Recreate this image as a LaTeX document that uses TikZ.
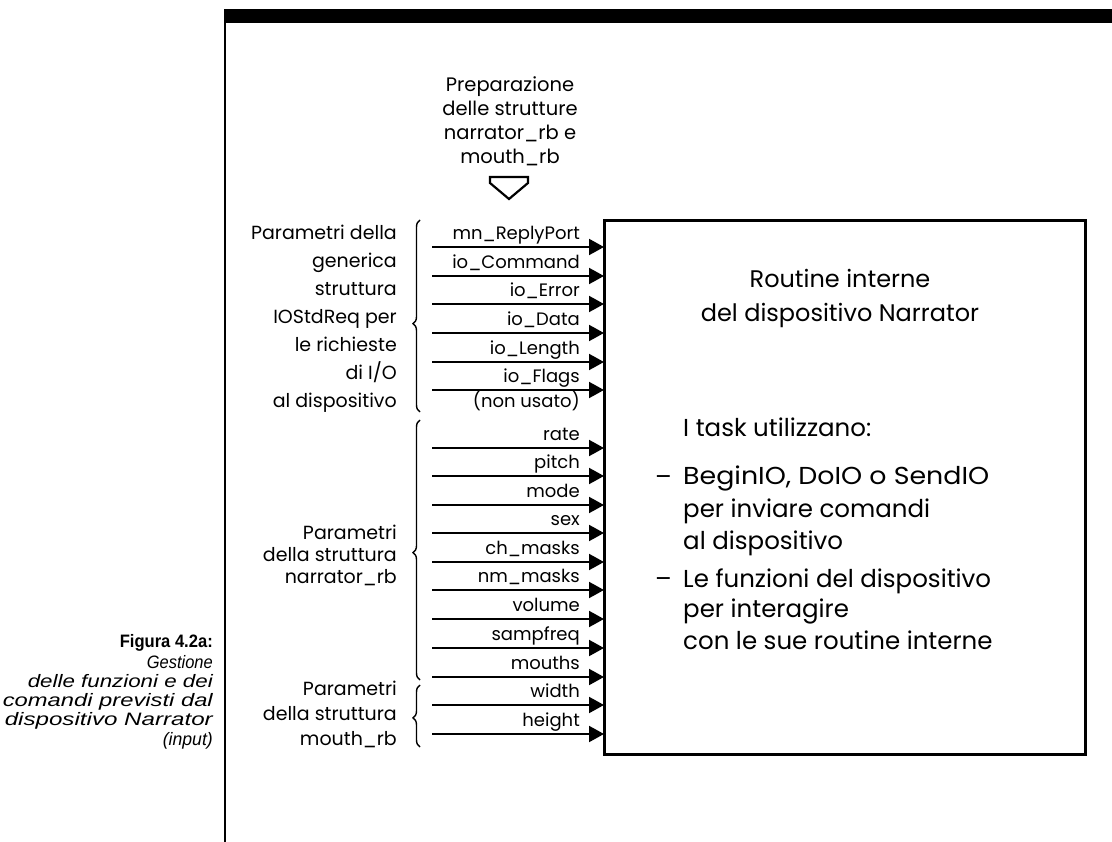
\documentclass[tikz,border=0pt]{standalone}
\usepackage{fontspec}
\usepackage{graphicx}
\setmainfont{Poppins}
\newfontfamily\capfont{Liberation Sans}
\usetikzlibrary{arrows.meta,decorations.pathreplacing}
\begin{document}
\begin{tikzpicture}[x=1pt,y=-1pt,
  lbl/.style={anchor=base east, inner sep=0pt, font=\fontsize{18}{21}\selectfont},
  side/.style={anchor=base east, inner sep=0pt, font=\fontsize{19}{22}\selectfont},
  toptxt/.style={anchor=base, inner sep=0pt, font=\fontsize{19.5}{22}\selectfont},
  boxtxt/.style={anchor=base, inner sep=0pt, font=\fontsize{24}{28}\selectfont},
  tasktxt/.style={anchor=base west, inner sep=0pt, font=\fontsize{24.5}{28}\selectfont},
  arr/.style={line width=2pt, -{Triangle[length=15pt,width=16pt]}},
  brc/.style={decorate, decoration={brace, amplitude=7pt, aspect=#1}, line width=1.4pt},
  capb/.style={anchor=base east, inner sep=0pt, font=\capfont\bfseries\fontsize{18}{19}\selectfont},
  capi/.style={anchor=base east, inner sep=0pt, font=\capfont\itshape\fontsize{18}{19}\selectfont},
]
\useasboundingbox (0,0) rectangle (1112,842);
% frame
\fill (224,9) rectangle (1112,23);
\draw[line width=2.2pt] (225,22) -- (225,842);

% main box
\node[draw, line width=3pt, minimum width=481pt, minimum height=533pt,
      anchor=north west, inner sep=0pt, outer sep=0pt] (box) at (604,221) {};

% arrows and labels
\foreach \i/\y/\t in {1/247/{mn\_ReplyPort}, 2/276/{io\_Command}, 3/304/{io\_Error},
    4/333/{io\_Data}, 5/362/{io\_Length}, 6/390/{io\_Flags},
    7/448/{rate}, 8/476/{pitch}, 9/505/{mode}, 10/533/{sex}, 11/562/{ch\_masks},
    12/590/{nm\_masks}, 13/619/{volume}, 14/648/{sampfreq}, 15/677/{mouths},
    16/705/{width}, 17/734/{height}} {
  \coordinate (a\i) at (432,\y);
  \draw[arr] (a\i) -- (a\i -| box.west);
  \node[lbl] (l\i) at (580,\y-7.5) {\t};
}
\node[lbl] (l0) at (580,408) {(non usato)};

% braces
\coordinate (b1s) at (420,412); \coordinate (b1e) at (420,220);
\draw[brc=0.46] (b1s) -- (b1e);
\coordinate (b2s) at (420,680); \coordinate (b2e) at (420,420);
\draw[brc=0.49] (b2s) -- (b2e);
\coordinate (b3s) at (420,747); \coordinate (b3e) at (420,685);
\draw[brc=0.47] (b3s) -- (b3e);

% side texts
\foreach \i/\y/\t in {1/240/{Parametri della}, 2/268/{generica}, 3/296/{struttura},
    4/324/{IOStdReq per}, 5/352/{le richieste}, 6/380/{di I/O}, 7/408/{al dispositivo}} {
  \node[side] (s\i) at (397,\y) {\t};
}
\foreach \i/\y/\t in {1/539/{Parametri}, 2/561/{della struttura}, 3/583/{narrator\_rb}} {
  \node[side] (n\i) at (397,\y) {\t};
}
\foreach \i/\y/\t in {1/695/{Parametri}, 2/720/{della struttura}, 3/745/{mouth\_rb}} {
  \node[side] (m\i) at (397,\y) {\t};
}

% top text and hollow arrow
\foreach \i/\y/\t in {1/92/{Preparazione}, 2/116/{delle strutture}, 3/140/{narrator\_rb e}, 4/164/{mouth\_rb}} {
  \node[toptxt] (p\i) at (510,\y) {\t};
}
\draw[line width=2.2pt, line join=miter] (490,177) -- (528,177) -- (528,183) -- (509,199) -- (490,183) -- cycle;

% box texts
\node[boxtxt] (r1) at (840,288) {Routine interne};
\node[boxtxt] (r2) at (840,322) {del dispositivo Narrator};

\node[tasktxt] (t0) at (683,436) {I task utilizzano:};
\node[tasktxt, anchor=base east] (d1) at (672,485) {–};
\node[tasktxt] (t1) at (683,485) {\resizebox{306pt}{\height}{BeginIO, DoIO o SendIO}};
\node[tasktxt] (t2) at (683,517) {per inviare comandi};
\node[tasktxt] (t3) at (683,549) {al dispositivo};
\node[tasktxt, anchor=base east] (d2) at (672,587) {–};
\node[tasktxt] (t4) at (683,587) {Le funzioni del dispositivo};
\node[tasktxt] (t5) at (683,617) {per interagire};
\node[tasktxt] (t6) at (683,649) {con le sue routine interne};

% caption
\node[capb] (c0) at (213,647) {\resizebox{93pt}{\height}{Figura 4.2a:}};
\node[capi] (c1) at (213,668) {\resizebox{66pt}{\height}{Gestione}};
\node[capi] (c2) at (213,687) {\resizebox{185pt}{\height}{delle funzioni e dei}};
\node[capi] (c3) at (213,706) {\resizebox{210pt}{\height}{comandi previsti dal}};
\node[capi] (c4) at (213,725) {\resizebox{208pt}{\height}{dispositivo Narrator}};
\node[capi] (c5) at (213,745) {\resizebox{50pt}{\height}{(input)}};
\end{tikzpicture}
\end{document}
